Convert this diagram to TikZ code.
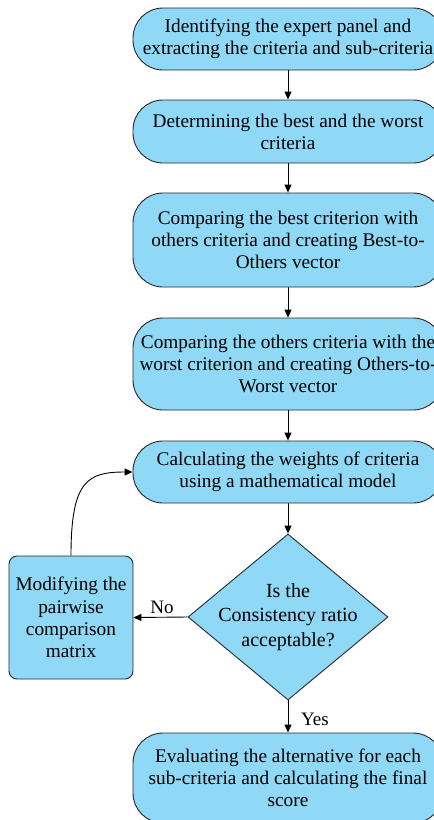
\documentclass[tikz,border=0pt]{standalone}
\usepackage{fontspec}
\setmainfont{Liberation Serif}
\newfontfamily\timesf{Liberation Serif}
\usetikzlibrary{arrows.meta,shapes.geometric}
\definecolor{boxblue}{RGB}{143,216,246}
\definecolor{edgegray}{RGB}{40,40,40}
\begin{document}
\begin{tikzpicture}[x=1pt,y=-1pt,
  flowbox/.style={draw=edgegray, line width=0.9pt, fill=boxblue, rounded corners=30pt,
    minimum width=310pt, align=center, inner sep=0pt,
    font=\timesf\fontsize{19.3}{22.2}\selectfont},
  sidebox/.style={draw=edgegray, line width=0.9pt, fill=boxblue, rounded corners=8pt,
    minimum width=124pt, minimum height=123pt, align=center, inner sep=0pt,
    font=\timesf\fontsize{19.3}{22.4}\selectfont},
  decision/.style={draw=edgegray, line width=0.9pt, fill=boxblue, diamond, aspect=1.2,
    minimum width=200pt, minimum height=166pt, inner sep=0pt},
  dtext/.style={align=center, inner sep=0pt, font=\timesf\fontsize{20}{24.5}\selectfont},
  lbl/.style={inner sep=0pt, font=\timesf\fontsize{19}{22}\selectfont},
  arr/.style={draw=black, line width=0.9pt, -{Triangle[length=8pt,width=7pt]}}]
\useasboundingbox (0,0) rectangle (434,820);
\clip (0,0) rectangle (434,820);

\node[flowbox, minimum height=62pt] (b1) at (288,39)
  {Identifying the expert panel and\\extracting the criteria and sub-criteria};
\node[flowbox, minimum height=63pt] (b2) at (288,131.5)
  {Determining the best and the worst\\criteria};
\node[flowbox, minimum height=94pt] (b3) at (288,240)
  {Comparing the best criterion with\\others criteria and creating Best-to-\\Others vector};
\node[flowbox, minimum height=92pt] (b4) at (288,364)
  {Comparing the others criteria with the\\worst criterion and creating Others-to-\\Worst vector};
\node[flowbox, minimum height=62pt] (b5) at (288,472)
  {Calculating the weights of criteria\\using a mathematical model};
\node[decision] (d) at (288,617) {};
\node[dtext] (dt) at (d.center) {Is the\\Consistency ratio\\acceptable?};
\node[sidebox] (b6) at (71,617.5)
  {Modifying the\\pairwise\\comparison\\matrix};
\node[flowbox, minimum height=90pt] (b7) at (288,778)
  {Evaluating the alternative for each\\sub-criteria and calculating the final\\score};

\draw[arr] (b1) -- (b2);
\draw[arr] (b2) -- (b3);
\draw[arr] (b3) -- (b4);
\draw[arr] (b4) -- (b5);
\draw[arr] (b5) -- (d);
\draw[arr] (d.south) -- (b7);
\draw[arr] (d.west) -- (b6.east);
\draw[arr] (b6.north) .. controls +(0,-75) and +(-45,0) .. (b5.west);
\node[lbl] (no) at (162,607) {No};
\node[lbl] (yes) at (315,719) {Yes};
\end{tikzpicture}
\end{document}
